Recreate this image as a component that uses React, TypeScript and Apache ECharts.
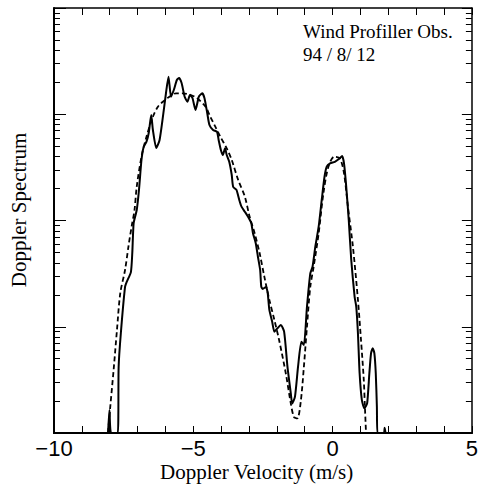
import React, { useEffect, useRef } from "react";
import * as echarts from "echarts";

// Observed Doppler spectrum (solid)
const velSolid = [-8.06,-8.01,-7.95,-7.71,-7.69,-7.68,-7.60,-7.45,-7.39,-7.24,-7.19,-7.14,-7.03,-6.95,-6.86,-6.78,-6.68,-6.60,-6.51,-6.45,-6.33,-6.21,-6.09,-5.98,-5.89,-5.80,-5.70,-5.59,-5.51,-5.42,-5.31,-5.21,-5.12,-5.03,-4.92,-4.80,-4.68,-4.60,-4.50,-4.42,-4.29,-4.15,-4.09,-4.01,-3.94,-3.86,-3.80,-3.71,-3.62,-3.57,-3.45,-3.35,-3.27,-3.15,-3.04,-2.92,-2.86,-2.76,-2.68,-2.60,-2.56,-2.51,-2.39,-2.33,-2.27,-2.17,-2.09,-1.98,-1.86,-1.74,-1.62,-1.50,-1.45,-1.35,-1.24,-1.12,-1.03,-0.92,-0.80,-0.72,-0.62,-0.50,-0.39,-0.29,-0.21,-0.09,0.08,0.26,0.34,0.41,0.49,0.58,0.67,0.79,0.85,0.91,0.97,1.05,1.14,1.24,1.32,1.38,1.44,1.50,1.55,1.59,1.61,1.84,1.87,1.90];
const specSolid = [1,1.65,1,1,1.54,4.18,8.73,23.7,26.4,32.7,49.4,94.7,125.6,193.6,371,495,552,666,984,711,481,573,948,1585,2256,1463,1691,2100,2193,1968,1463,1312,1518,1422,1096,1463,1575,1422,1028,792,711,685,573,461,413,478,413,357,268,208,194,156,135,121,109,94.7,76.3,61.4,45.6,34.2,23.8,22.7,23.7,20.8,14.4,11.2,8.98,9.67,10.4,8.98,4.21,2.36,1.90,2.20,4.21,7.23,6.73,15.4,31.8,36.7,56.7,87.4,156,258,321,345,357,385,405,345,208,101,42.5,19.2,15.4,8.67,3.65,2.05,1.71,1.90,3.65,5.62,6.27,5.62,3.65,1.77,1,1,1.12,1];

// Fitted spectrum (dashed)
const velDashed = [-8.06,-7.98,-7.86,-7.74,-7.62,-7.45,-7.32,-7.21,-7.11,-7.03,-6.86,-6.68,-6.45,-6.27,-6.09,-5.86,-5.62,-5.39,-5.09,-4.86,-4.56,-4.39,-4.21,-4.03,-3.80,-3.62,-3.39,-3.15,-2.98,-2.80,-2.62,-2.45,-2.27,-2.09,-1.92,-1.68,-1.50,-1.39,-1.27,-1.15,-1.03,-0.92,-0.80,-0.68,-0.50,-0.33,-0.15,0.06,0.26,0.41,0.55,0.73,0.91,1.02,1.12,1.16,1.20];
const specDashed = [1,1.77,3.92,9.32,20.8,34.2,58.8,88.8,125.6,208,398,615,948,1178,1312,1463,1575,1575,1518,1413,1178,948,764,615,478,371,241,168,109,76.3,49.4,29.6,17.9,11.6,7.5,3.65,1.90,1.42,1.37,1.90,4.21,10.0,23.8,36.7,75.8,180,321,398,385,278,135,56.7,17.9,7.5,3.15,1.77,1];

const titleLines = ["Wind Profiller Obs.", "94 / 8/ 12"];
const xName = "Doppler Velocity (m/s)";
const yName = "Doppler Spectrum";

export default function App() {
  const ref = useRef<HTMLDivElement>(null);
  useEffect(() => {
    if (!ref.current) return;
    const chart = echarts.init(ref.current, null, { renderer: "svg" });
    const serif = "Liberation Serif";
    const sans = "Liberation Sans";
    const textStyle = (size: number) => ({ fontFamily: serif, fontSize: size, fontWeight: "normal", color: "#000" });
    const yAx = (pos: string, majorLen: number, lineW: number, withName: boolean) => ({
      type: "log",
      logBase: 10,
      min: 1,
      max: 10000,
      position: pos,
      splitLine: { show: false },
      axisLine: { show: true, onZero: false, lineStyle: { color: "#000", width: lineW } },
      axisTick: { show: true, inside: true, length: majorLen },
      minorTick: { show: true, splitNumber: 9, length: 6, lineStyle: { color: "#000", width: 1 } },
      axisLabel: { show: false },
      name: withName ? yName : "",
      nameLocation: "middle",
      nameGap: 25,
      nameTextStyle: { ...textStyle(21), padding: [0, 0, 0, 21] },
    });
    const option: any = {
      animation: false,
      backgroundColor: "#fff",
      grid: { left: 51, top: 8, width: 425, height: 425, containLabel: false },
      title: [
        { text: titleLines[0], left: 303, top: 22, padding: 0, textStyle: textStyle(19) },
        { text: titleLines[1], left: 303, top: 45, padding: 0, textStyle: textStyle(19) },
        { text: xName, left: 160, top: 461, padding: 0, textStyle: textStyle(21) },
      ],
      xAxis: [
        {
          type: "value",
          min: -10,
          max: 5,
          interval: 5,
          position: "bottom",
          splitLine: { show: false },
          axisLine: { onZero: false, lineStyle: { color: "#000", width: 2 } },
          axisTick: { show: false },
          axisLabel: {
            margin: 4,
            fontFamily: sans,
            fontSize: 22,
            color: "#000",
            showMinLabel: true,
            showMaxLabel: true,
            formatter: (v: number) => String(v).replace("-", "\u2212"),
          },
        },
        {
          type: "value",
          min: -10,
          max: 5,
          interval: 1,
          position: "bottom",
          splitLine: { show: false },
          axisLine: { onZero: false, lineStyle: { color: "#000", width: 2 } },
          axisTick: { show: true, inside: true, length: 7 },
          axisLabel: { show: false },
        },
        {
          type: "value",
          min: -10,
          max: 5,
          interval: 1,
          position: "top",
          splitLine: { show: false },
          axisLine: { onZero: false, lineStyle: { color: "#000", width: 1.5 } },
          axisTick: { show: true, inside: true, length: 7 },
          axisLabel: { show: false },
        },
      ],
      yAxis: [yAx("left", 12, 2, true), yAx("right", 10, 1.5, false)],
      series: [
        {
          type: "line",
          xAxisIndex: 0,
          yAxisIndex: 0,
          data: velDashed.map((x, i) => [x, specDashed[i]]),
          showSymbol: false,
          smooth: 0.3,
          lineStyle: { color: "#000", width: 1.8, type: [5, 3] },
        },
        {
          type: "line",
          xAxisIndex: 0,
          yAxisIndex: 0,
          data: velSolid.map((x, i) => [x, specSolid[i]]),
          showSymbol: false,
          smooth: 0.2,
          lineStyle: { color: "#000", width: 2 },
        },
      ],
    };
    chart.setOption(option);
    return () => chart.dispose();
  }, []);
  return <div ref={ref} style={{ position: "absolute", left: 0, top: 0, width: 481, height: 486 }} />;
}
